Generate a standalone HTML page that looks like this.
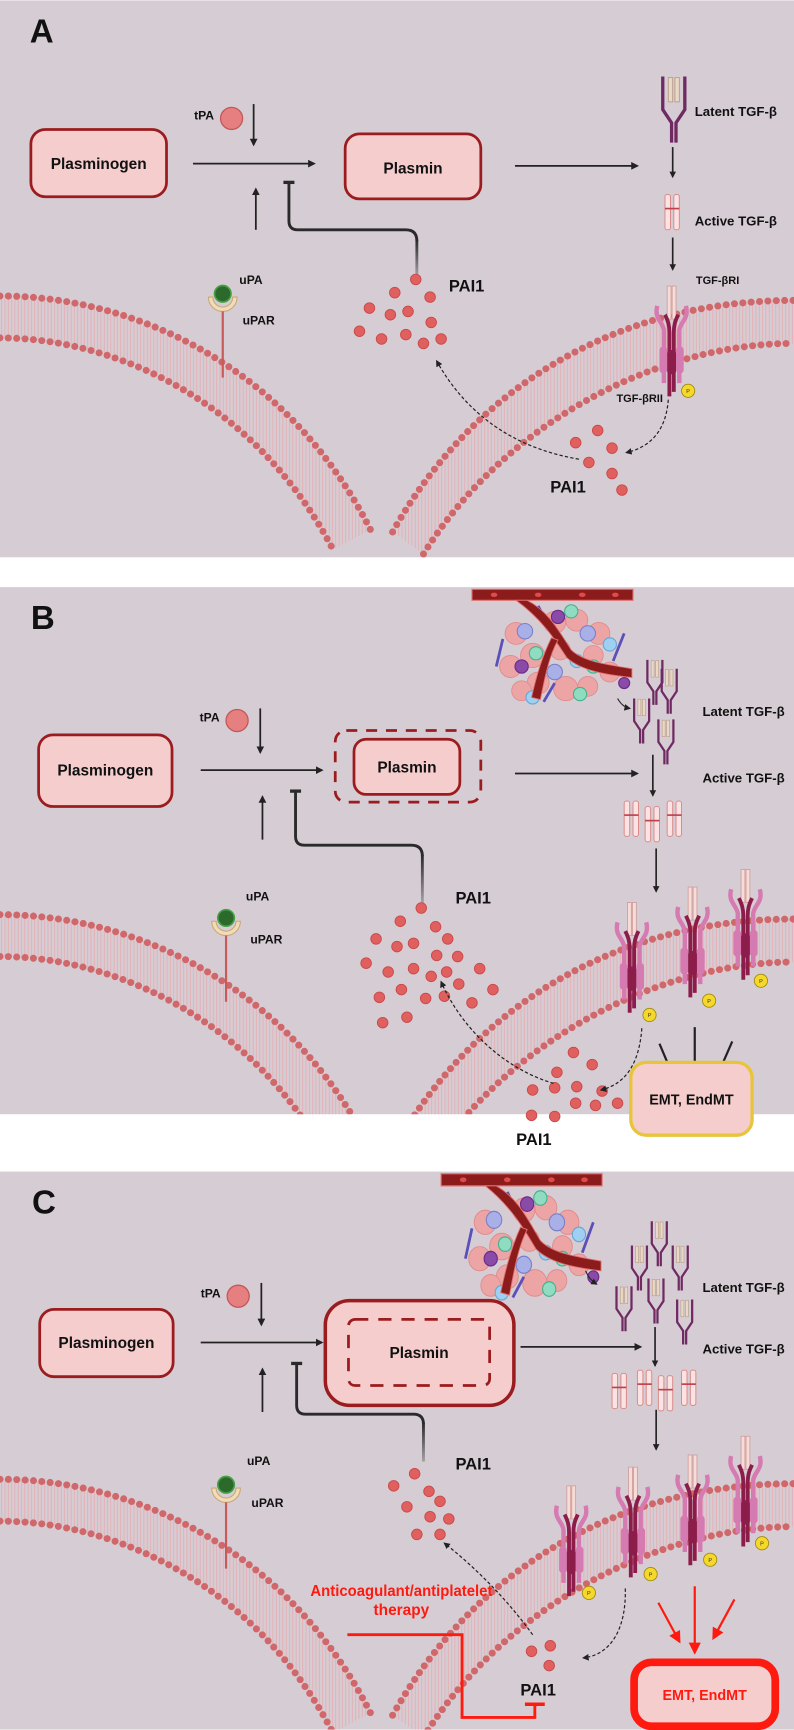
<!DOCTYPE html>
<html><head><meta charset="utf-8"><style>
html,body{margin:0;padding:0;background:#fff;}
svg{display:block;}
text{font-family:"Liberation Sans",sans-serif;}
</style></head><body>
<svg width="794" height="1730" viewBox="0 0 720 1568" xmlns="http://www.w3.org/2000/svg">
<defs>
<marker id="ah" viewBox="0 0 10 10" refX="8" refY="5" markerWidth="7" markerHeight="7" markerUnits="userSpaceOnUse" orient="auto"><path d="M0,0 L10,5 L0,10 z" fill="#222"/></marker>
<marker id="ahs" viewBox="0 0 10 10" refX="8" refY="5" markerWidth="6" markerHeight="6" markerUnits="userSpaceOnUse" orient="auto"><path d="M0,0 L10,5 L0,10 z" fill="#222"/></marker>
<marker id="ahr" viewBox="0 0 10 10" refX="8" refY="5" markerWidth="11" markerHeight="11" markerUnits="userSpaceOnUse" orient="auto"><path d="M0,0 L10,5 L0,10 z" fill="#ff1a10"/></marker>
<pattern id="hatch" width="3" height="6" patternUnits="userSpaceOnUse"><line x1="1.5" y1="0" x2="1.5" y2="6" stroke="#e7a7ab" stroke-width="0.7"/></pattern>
<linearGradient id="fade" x1="0" y1="0" x2="0" y2="1"><stop offset="0" stop-color="#2a2a2a"/><stop offset="1" stop-color="#a5a0a4"/></linearGradient>
<clipPath id="cA"><rect x="0" y="0" width="720" height="505"/></clipPath>
<clipPath id="cB"><rect x="0" y="532" width="720" height="478"/></clipPath>
<clipPath id="cC"><rect x="0" y="1062" width="720" height="506"/></clipPath>

<g id="mem">
<path d="M0,268 C120,268 260,330 336,480 L302,498 C230,360 100,306 0,306 Z" fill="url(#hatch)"/>
<path d="M356,482 C430,350 560,272 720,272 L720,311 C600,311 460,380 384,502 Z" fill="url(#hatch)"/>
<g fill="none" stroke="#d0676a" stroke-width="6.4" stroke-dasharray="0 7.6" stroke-linecap="round">
<path d="M0,268 C120,268 260,330 336,480"/>
<path d="M0,306 C100,306 230,360 302,498"/>
<path d="M356,482 C430,350 560,272 720,272"/>
<path d="M384,502 C460,380 600,311 720,311"/>
</g>
</g>

<g id="latent">
<rect x="8" y="1" width="4" height="22" fill="#ead8c6" stroke="#b69a88" stroke-width="0.8"/>
<rect x="14" y="1" width="4" height="22" fill="#ead8c6" stroke="#b69a88" stroke-width="0.8"/>
<path d="M3,0 L3,30 L11,42 L11,60 M23,0 L23,30 L15,42 L15,60" fill="none" stroke="#6f2a62" stroke-width="3"/>
</g>
<g id="active">
<rect x="0" y="0" width="5" height="32" rx="2" fill="#fce3e3" stroke="#d98a8a" stroke-width="0.9"/>
<rect x="8" y="0" width="5" height="32" rx="2" fill="#fce3e3" stroke="#d98a8a" stroke-width="0.9"/>
<rect x="0" y="12" width="13" height="1.5" fill="#c0404a"/>
</g>
<g id="recep">
<rect x="14" y="0" width="3.5" height="30" fill="#f7dbd6" stroke="#c99" stroke-width="0.7"/>
<rect x="18.5" y="0" width="3.5" height="30" fill="#f7dbd6" stroke="#c99" stroke-width="0.7"/>
<path d="M5,18 C2,30 10,32 11,40 L11,88 M31,18 C34,30 26,32 25,40 L25,88" fill="none" stroke="#d67ab2" stroke-width="4"/>
<rect x="7" y="55" width="7" height="24" rx="3" fill="#d67ab2"/>
<rect x="22" y="55" width="7" height="24" rx="3" fill="#d67ab2"/>
<path d="M12,26 C15,32 16,36 16,42 L16,100 M24,26 C21,32 20,36 20,42 L20,96" fill="none" stroke="#8c1d4b" stroke-width="3.5"/>
<rect x="14" y="58" width="8" height="22" rx="3" fill="#8c1d4b"/>
</g>
<g id="upa">
<path d="M-13,-3 A13,13 0 0 0 13,-3 L9,-3 A9,9 0 0 1 -9,-3 Z" fill="#f2dcb8" stroke="#c9a878" stroke-width="1"/>
<circle cx="0" cy="-6" r="7.5" fill="#2c6a2c" stroke="#46a046" stroke-width="1.5"/>
<line x1="0" y1="10" x2="0" y2="70" stroke="#c85a5a" stroke-width="2"/>
</g>
<g id="tissue">
<g fill="#f0a0a0" stroke="#e08585" stroke-width="0.8" opacity="0.9">
<circle cx="40" cy="40" r="10"/><circle cx="55" cy="60" r="11"/><circle cx="35" cy="70" r="10"/><circle cx="75" cy="30" r="10"/><circle cx="95" cy="28" r="10"/><circle cx="115" cy="40" r="10"/><circle cx="110" cy="60" r="9"/><circle cx="60" cy="85" r="10"/><circle cx="85" cy="90" r="11"/><circle cx="105" cy="88" r="9"/><circle cx="125" cy="75" r="9"/><circle cx="45" cy="92" r="9"/><circle cx="80" cy="55" r="9"/>
</g>
<g stroke-width="1"><circle cx="48" cy="38" r="7" fill="#a9b0e8" stroke="#7a80c8"/><circle cx="105" cy="40" r="7" fill="#a9b0e8" stroke="#7a80c8"/><circle cx="75" cy="75" r="7" fill="#a9b0e8" stroke="#7a80c8"/><circle cx="95" cy="65" r="6" fill="#9fd0f2" stroke="#6aa6d4"/><circle cx="125" cy="50" r="6" fill="#9fd0f2" stroke="#6aa6d4"/><circle cx="55" cy="98" r="6" fill="#9fd0f2" stroke="#6aa6d4"/><circle cx="90" cy="20" r="6" fill="#8fdcc0" stroke="#45b090"/><circle cx="58" cy="58" r="6" fill="#8fdcc0" stroke="#45b090"/><circle cx="110" cy="70" r="6" fill="#8fdcc0" stroke="#45b090"/><circle cx="98" cy="95" r="6" fill="#8fdcc0" stroke="#45b090"/><circle cx="78" cy="25" r="6" fill="#8a4aa8" stroke="#6a2a88"/><circle cx="45" cy="70" r="6" fill="#8a4aa8" stroke="#6a2a88"/><circle cx="138" cy="85" r="5" fill="#8a4aa8" stroke="#6a2a88"/></g>
<g stroke="#5a50b8" stroke-width="2.5"><line x1="28" y1="45" x2="22" y2="70"/><line x1="60" y1="15" x2="72" y2="38"/><line x1="75" y1="85" x2="65" y2="102"/><line x1="138" y1="40" x2="128" y2="65"/></g>
<path d="M0,0 H146 V10 H0 Z" fill="#8c1b1b" stroke="#e07070" stroke-width="1"/>
<path d="M50,10 C70,20 80,40 90,55 C100,65 120,68 145,72 L145,80 C118,77 98,73 86,62 C78,50 65,28 40,10 Z" fill="#8c1b1b" stroke="#e07070" stroke-width="0.8"/>
<path d="M78,46 C70,60 66,80 62,100 L54,98 C58,80 64,60 72,44 Z" fill="#8c1b1b" stroke="#e07070" stroke-width="0.8"/>
<g fill="#e04a4a"><ellipse cx="20" cy="5" rx="3" ry="2"/><ellipse cx="60" cy="5" rx="3" ry="2"/><ellipse cx="100" cy="5" rx="3" ry="2"/><ellipse cx="130" cy="5" rx="3" ry="2"/></g>
</g>
</defs>

<rect x="0" y="0" width="720" height="505" fill="#d6cdd4"/>
<rect x="0" y="532" width="720" height="478" fill="#d6cdd4"/>
<rect x="0" y="1062" width="720" height="506" fill="#d6cdd4"/>

<!-- ============ PANEL A ============ -->
<g clip-path="url(#cA)">
<use href="#mem"/>
</g>
<text x="27" y="38" font-size="30" font-weight="bold" fill="#111">A</text>
<rect x="28" y="117" width="123" height="61" rx="13" fill="#f5cdcd" stroke="#9b1c1f" stroke-width="2.5"/>
<text x="89.5" y="153" font-size="14" font-weight="bold" text-anchor="middle" fill="#111">Plasminogen</text>
<text x="176" y="108" font-size="11" font-weight="bold" fill="#111">tPA</text>
<circle cx="210" cy="107" r="10" fill="#e68080" stroke="#c45858" stroke-width="1.2"/>
<line x1="230" y1="94" x2="230" y2="131" stroke="#222" stroke-width="1.6" marker-end="url(#ah)"/>
<line x1="175" y1="148" x2="285" y2="148" stroke="#222" stroke-width="1.6" marker-end="url(#ah)"/>
<line x1="232" y1="208" x2="232" y2="171" stroke="#222" stroke-width="1.6" marker-end="url(#ah)"/>
<rect x="313" y="121" width="123" height="59" rx="13" fill="#f5cdcd" stroke="#9b1c1f" stroke-width="2.5"/>
<text x="374.5" y="157" font-size="14" font-weight="bold" text-anchor="middle" fill="#111">Plasmin</text>
<line x1="467" y1="150" x2="578" y2="150" stroke="#222" stroke-width="1.6" marker-end="url(#ah)"/>
<path d="M262,165 V200 Q262,208 270,208 H368 Q378,208 378,218" fill="none" stroke="#2a2a2a" stroke-width="2.6"/>
<rect x="376.7" y="217" width="2.6" height="33" fill="url(#fade)"/>
<line x1="257" y1="165" x2="267" y2="165" stroke="#2a2a2a" stroke-width="3"/>
<text x="407" y="264" font-size="15" font-weight="bold" fill="#111">PAI1</text>
<g fill="#e06060" stroke="#c94848" stroke-width="0.8">
<circle cx="377" cy="253" r="4.8"/><circle cx="358" cy="265" r="4.8"/><circle cx="390" cy="269" r="4.8"/><circle cx="335" cy="279" r="4.8"/><circle cx="354" cy="285" r="4.8"/><circle cx="370" cy="282" r="4.8"/><circle cx="391" cy="292" r="4.8"/><circle cx="326" cy="300" r="4.8"/><circle cx="346" cy="307" r="4.8"/><circle cx="368" cy="303" r="4.8"/><circle cx="384" cy="311" r="4.8"/><circle cx="400" cy="307" r="4.8"/>
<circle cx="542" cy="390" r="4.8"/><circle cx="522" cy="401" r="4.8"/><circle cx="555" cy="406" r="4.8"/><circle cx="534" cy="419" r="4.8"/><circle cx="555" cy="429" r="4.8"/><circle cx="564" cy="444" r="4.8"/>
</g>
<text x="499" y="446" font-size="15" font-weight="bold" fill="#111">PAI1</text>
<use href="#latent" x="598" y="69"/>
<text x="630" y="105" font-size="12" font-weight="bold" fill="#111">Latent TGF-β</text>
<line x1="610" y1="133" x2="610" y2="160" stroke="#222" stroke-width="1.5" marker-end="url(#ahs)"/>
<use href="#active" x="603" y="176"/>
<text x="630" y="204" font-size="12" font-weight="bold" fill="#111">Active TGF-β</text>
<line x1="610" y1="215" x2="610" y2="244" stroke="#222" stroke-width="1.5" marker-end="url(#ahs)"/>
<text x="631" y="257" font-size="10" font-weight="bold" fill="#111">TGF-βRI</text>
<use href="#recep" x="591" y="259"/>
<text x="559" y="364" font-size="10" font-weight="bold" fill="#111">TGF-βRII</text>
<circle cx="624" cy="354" r="6" fill="#f5d82a" stroke="#a08a10" stroke-width="0.8"/>
<text x="624" y="356" font-size="5" text-anchor="middle" fill="#333">P</text>
<path d="M606,362 C604,390 590,405 568,410" fill="none" stroke="#222" stroke-width="1.1" stroke-dasharray="3 2" marker-end="url(#ahs)"/>
<path d="M525,416 C460,405 420,370 396,327" fill="none" stroke="#222" stroke-width="1.1" stroke-dasharray="3 2" marker-end="url(#ahs)"/>
<use href="#upa" x="202" y="272"/>
<text x="217" y="257" font-size="11" font-weight="bold" fill="#111">uPA</text>
<text x="220" y="294" font-size="11" font-weight="bold" fill="#111">uPAR</text>

<!-- ============ PANEL B ============ -->
<g clip-path="url(#cB)">
<use href="#mem" y="561"/>
</g>
<text x="28" y="570" font-size="30" font-weight="bold" fill="#111">B</text>
<rect x="35" y="666" width="121" height="65" rx="13" fill="#f5cdcd" stroke="#9b1c1f" stroke-width="2.5"/>
<text x="95.5" y="703" font-size="14" font-weight="bold" text-anchor="middle" fill="#111">Plasminogen</text>
<text x="181" y="654" font-size="11" font-weight="bold" fill="#111">tPA</text>
<circle cx="215" cy="653" r="10" fill="#e68080" stroke="#c45858" stroke-width="1.2"/>
<line x1="236" y1="642" x2="236" y2="682" stroke="#222" stroke-width="1.6" marker-end="url(#ah)"/>
<line x1="182" y1="698" x2="292" y2="698" stroke="#222" stroke-width="1.6" marker-end="url(#ah)"/>
<line x1="238" y1="761" x2="238" y2="722" stroke="#222" stroke-width="1.6" marker-end="url(#ah)"/>
<rect x="304" y="662" width="132" height="65" rx="10" fill="none" stroke="#9b1c1f" stroke-width="2.5" stroke-dasharray="10 8"/>
<rect x="321" y="670" width="96" height="50" rx="11" fill="#f5cdcd" stroke="#9b1c1f" stroke-width="2.5"/>
<text x="369" y="700" font-size="14" font-weight="bold" text-anchor="middle" fill="#111">Plasmin</text>
<line x1="467" y1="701" x2="578" y2="701" stroke="#222" stroke-width="1.6" marker-end="url(#ah)"/>
<path d="M268,717 V758 Q268,766 276,766 H373 Q383,766 383,776" fill="none" stroke="#2a2a2a" stroke-width="2.6"/>
<rect x="381.7" y="775" width="2.6" height="43" fill="url(#fade)"/>
<line x1="263" y1="717" x2="273" y2="717" stroke="#2a2a2a" stroke-width="3"/>
<text x="413" y="819" font-size="15" font-weight="bold" fill="#111">PAI1</text>
<use href="#tissue" transform="translate(428,534) scale(1.0)"/>
<path d="M560,633 C563,638 566,641 571,642" fill="none" stroke="#222" stroke-width="1" marker-end="url(#ahs)"/>
<g transform="translate(585,598) scale(0.68)"><use href="#latent"/></g>
<g transform="translate(598,606) scale(0.68)"><use href="#latent"/></g>
<g transform="translate(573,633) scale(0.68)"><use href="#latent"/></g>
<g transform="translate(595,652) scale(0.68)"><use href="#latent"/></g>
<text x="637" y="649" font-size="12" font-weight="bold" fill="#111">Latent TGF-β</text>
<line x1="592" y1="684" x2="592" y2="721" stroke="#222" stroke-width="1.5" marker-end="url(#ahs)"/>
<text x="637" y="709" font-size="12" font-weight="bold" fill="#111">Active TGF-β</text>
<use href="#active" x="566" y="726"/>
<use href="#active" x="585" y="731"/>
<use href="#active" x="605" y="726"/>
<line x1="595" y1="769" x2="595" y2="808" stroke="#222" stroke-width="1.5" marker-end="url(#ahs)"/>
<use href="#recep" x="555" y="818"/>
<use href="#recep" x="610" y="804"/>
<use href="#recep" x="658" y="788"/>
<g fill="#f5d82a" stroke="#a08a10" stroke-width="0.8"><circle cx="589" cy="920" r="6"/><circle cx="643" cy="907" r="6"/><circle cx="690" cy="889" r="6"/></g>
<g font-size="5" text-anchor="middle" fill="#333"><text x="589" y="922">P</text><text x="643" y="909">P</text><text x="690" y="891">P</text></g>
<g fill="#e06060" stroke="#c94848" stroke-width="0.8">
<circle cx="382" cy="823" r="4.8"/><circle cx="363" cy="835" r="4.8"/><circle cx="395" cy="840" r="4.8"/><circle cx="341" cy="851" r="4.8"/><circle cx="360" cy="858" r="4.8"/><circle cx="375" cy="855" r="4.8"/><circle cx="406" cy="851" r="4.8"/><circle cx="396" cy="866" r="4.8"/><circle cx="415" cy="867" r="4.8"/><circle cx="332" cy="873" r="4.8"/><circle cx="352" cy="881" r="4.8"/><circle cx="375" cy="878" r="4.8"/><circle cx="391" cy="885" r="4.8"/><circle cx="405" cy="881" r="4.8"/><circle cx="435" cy="878" r="4.8"/><circle cx="364" cy="897" r="4.8"/><circle cx="386" cy="905" r="4.8"/><circle cx="403" cy="903" r="4.8"/><circle cx="416" cy="892" r="4.8"/><circle cx="428" cy="909" r="4.8"/><circle cx="447" cy="897" r="4.8"/><circle cx="344" cy="904" r="4.8"/><circle cx="347" cy="927" r="4.8"/><circle cx="369" cy="922" r="4.8"/>
<circle cx="520" cy="954" r="4.8"/><circle cx="537" cy="965" r="4.8"/><circle cx="505" cy="972" r="4.8"/><circle cx="483" cy="988" r="4.8"/><circle cx="503" cy="986" r="4.8"/><circle cx="523" cy="985" r="4.8"/><circle cx="546" cy="989" r="4.8"/><circle cx="522" cy="1000" r="4.8"/><circle cx="540" cy="1002" r="4.8"/><circle cx="560" cy="1000" r="4.8"/><circle cx="482" cy="1011" r="4.8"/><circle cx="503" cy="1012" r="4.8"/>
</g>
<text x="468" y="1038" font-size="15" font-weight="bold" fill="#111">PAI1</text>
<path d="M582,932 C580,960 570,982 545,988" fill="none" stroke="#222" stroke-width="1.1" stroke-dasharray="3 2" marker-end="url(#ahs)"/>
<path d="M502,982 C460,970 420,935 400,890" fill="none" stroke="#222" stroke-width="1.1" stroke-dasharray="3 2" marker-end="url(#ahs)"/>
<g stroke="#222" stroke-width="2" marker-end="url(#ah)"><line x1="598" y1="946" x2="614" y2="984"/><line x1="630" y1="931" x2="630" y2="996"/><line x1="664" y1="944" x2="647" y2="983"/></g>
<rect x="572" y="963" width="110" height="66" rx="14" fill="#f5cdcd" stroke="#e8c43a" stroke-width="3"/>
<text x="627" y="1001" font-size="13" font-weight="bold" text-anchor="middle" fill="#111">EMT, EndMT</text>
<use href="#upa" x="205" y="838"/>
<text x="223" y="816" font-size="11" font-weight="bold" fill="#111">uPA</text>
<text x="227" y="855" font-size="11" font-weight="bold" fill="#111">uPAR</text>

<!-- ============ PANEL C ============ -->
<g clip-path="url(#cC)">
<use href="#mem" y="1073"/>
</g>
<text x="29" y="1100" font-size="30" font-weight="bold" fill="#111">C</text>
<rect x="36" y="1187" width="121" height="61" rx="13" fill="#f5cdcd" stroke="#9b1c1f" stroke-width="2.5"/>
<text x="96.5" y="1222" font-size="14" font-weight="bold" text-anchor="middle" fill="#111">Plasminogen</text>
<text x="182" y="1176" font-size="11" font-weight="bold" fill="#111">tPA</text>
<circle cx="216" cy="1175" r="10" fill="#e68080" stroke="#c45858" stroke-width="1.2"/>
<line x1="237" y1="1163" x2="237" y2="1201" stroke="#222" stroke-width="1.6" marker-end="url(#ah)"/>
<line x1="182" y1="1217" x2="292" y2="1217" stroke="#222" stroke-width="1.6" marker-end="url(#ah)"/>
<line x1="238" y1="1280" x2="238" y2="1241" stroke="#222" stroke-width="1.6" marker-end="url(#ah)"/>
<rect x="295" y="1179" width="171" height="95" rx="22" fill="#f5cdcd" stroke="#9b1c1f" stroke-width="3.2"/>
<rect x="316" y="1196" width="128" height="60" rx="6" fill="none" stroke="#9b1c1f" stroke-width="2.5" stroke-dasharray="12 9"/>
<text x="380" y="1231" font-size="14" font-weight="bold" text-anchor="middle" fill="#111">Plasmin</text>
<line x1="472" y1="1221" x2="581" y2="1221" stroke="#222" stroke-width="1.6" marker-end="url(#ah)"/>
<path d="M269,1236 V1274 Q269,1282 277,1282 H375 Q384,1282 384,1291" fill="none" stroke="#2a2a2a" stroke-width="2.6"/>
<rect x="382.7" y="1290" width="2.6" height="35" fill="url(#fade)"/>
<line x1="264" y1="1236" x2="274" y2="1236" stroke="#2a2a2a" stroke-width="3"/>
<text x="413" y="1332" font-size="15" font-weight="bold" fill="#111">PAI1</text>
<use href="#tissue" transform="translate(400,1064) scale(1.0,1.1)"/>
<path d="M531,1152 C533,1157 536,1161 541,1164" fill="none" stroke="#222" stroke-width="1" marker-end="url(#ahs)"/>
<g transform="translate(589,1107) scale(0.68)"><use href="#latent"/></g>
<g transform="translate(571,1129) scale(0.68)"><use href="#latent"/></g>
<g transform="translate(608,1129) scale(0.68)"><use href="#latent"/></g>
<g transform="translate(557,1166) scale(0.68)"><use href="#latent"/></g>
<g transform="translate(586,1159) scale(0.68)"><use href="#latent"/></g>
<g transform="translate(612,1178) scale(0.68)"><use href="#latent"/></g>
<text x="637" y="1171" font-size="12" font-weight="bold" fill="#111">Latent TGF-β</text>
<text x="637" y="1227" font-size="12" font-weight="bold" fill="#111">Active TGF-β</text>
<line x1="594" y1="1203" x2="594" y2="1238" stroke="#222" stroke-width="1.5" marker-end="url(#ahs)"/>
<use href="#active" x="555" y="1245"/>
<use href="#active" x="578" y="1242"/>
<use href="#active" x="597" y="1247"/>
<use href="#active" x="618" y="1242"/>
<line x1="595" y1="1278" x2="595" y2="1314" stroke="#222" stroke-width="1.5" marker-end="url(#ahs)"/>
<use href="#recep" x="500" y="1347"/>
<use href="#recep" x="556" y="1330"/>
<use href="#recep" x="610" y="1319"/>
<use href="#recep" x="658" y="1302"/>
<g fill="#f5d82a" stroke="#a08a10" stroke-width="0.8"><circle cx="534" cy="1444" r="6"/><circle cx="590" cy="1427" r="6"/><circle cx="644" cy="1414" r="6"/><circle cx="691" cy="1399" r="6"/></g>
<g font-size="5" text-anchor="middle" fill="#333"><text x="534" y="1446">P</text><text x="590" y="1429">P</text><text x="644" y="1416">P</text><text x="691" y="1401">P</text></g>
<g fill="#e06060" stroke="#c94848" stroke-width="0.8">
<circle cx="376" cy="1336" r="4.8"/><circle cx="357" cy="1347" r="4.8"/><circle cx="389" cy="1352" r="4.8"/><circle cx="399" cy="1361" r="4.8"/><circle cx="369" cy="1366" r="4.8"/><circle cx="390" cy="1375" r="4.8"/><circle cx="407" cy="1377" r="4.8"/><circle cx="378" cy="1391" r="4.8"/><circle cx="399" cy="1391" r="4.8"/>
<circle cx="499" cy="1492" r="4.8"/><circle cx="482" cy="1497" r="4.8"/><circle cx="498" cy="1510" r="4.8"/>
</g>
<path d="M567,1440 C568,1475 555,1500 529,1503" fill="none" stroke="#222" stroke-width="1.1" stroke-dasharray="3 2" marker-end="url(#ahs)"/>
<path d="M483,1482 C460,1450 430,1420 403,1399" fill="none" stroke="#222" stroke-width="1.1" stroke-dasharray="3 2" marker-end="url(#ahs)"/>
<g stroke="#ff1a10" stroke-width="2" marker-end="url(#ahr)"><line x1="597" y1="1453" x2="616" y2="1488"/><line x1="630" y1="1438" x2="630" y2="1498"/><line x1="666" y1="1450" x2="647" y2="1485"/></g>
<rect x="575" y="1507" width="128" height="58" rx="16" fill="#f5cdcd" stroke="#ff1a10" stroke-width="7"/>
<text x="639" y="1541" font-size="13" font-weight="bold" text-anchor="middle" fill="#ff1a10">EMT, EndMT</text>
<text x="364" y="1447" font-size="14" font-weight="bold" text-anchor="middle" fill="#ff1a10" textLength="165" lengthAdjust="spacingAndGlyphs">Anticoagulant/antiplatelet</text>
<text x="364" y="1464" font-size="14" font-weight="bold" text-anchor="middle" fill="#ff1a10">therapy</text>
<path d="M315,1482 H419 V1557 H485 V1545" fill="none" stroke="#ff1a10" stroke-width="2.6"/>
<line x1="476" y1="1545" x2="494" y2="1545" stroke="#ff1a10" stroke-width="3.2"/>
<text x="488" y="1537" font-size="15" font-weight="bold" text-anchor="middle" fill="#111">PAI1</text>
<use href="#upa" x="205" y="1352"/>
<text x="224" y="1328" font-size="11" font-weight="bold" fill="#111">uPA</text>
<text x="228" y="1366" font-size="11" font-weight="bold" fill="#111">uPAR</text>
</svg>
</body></html>
